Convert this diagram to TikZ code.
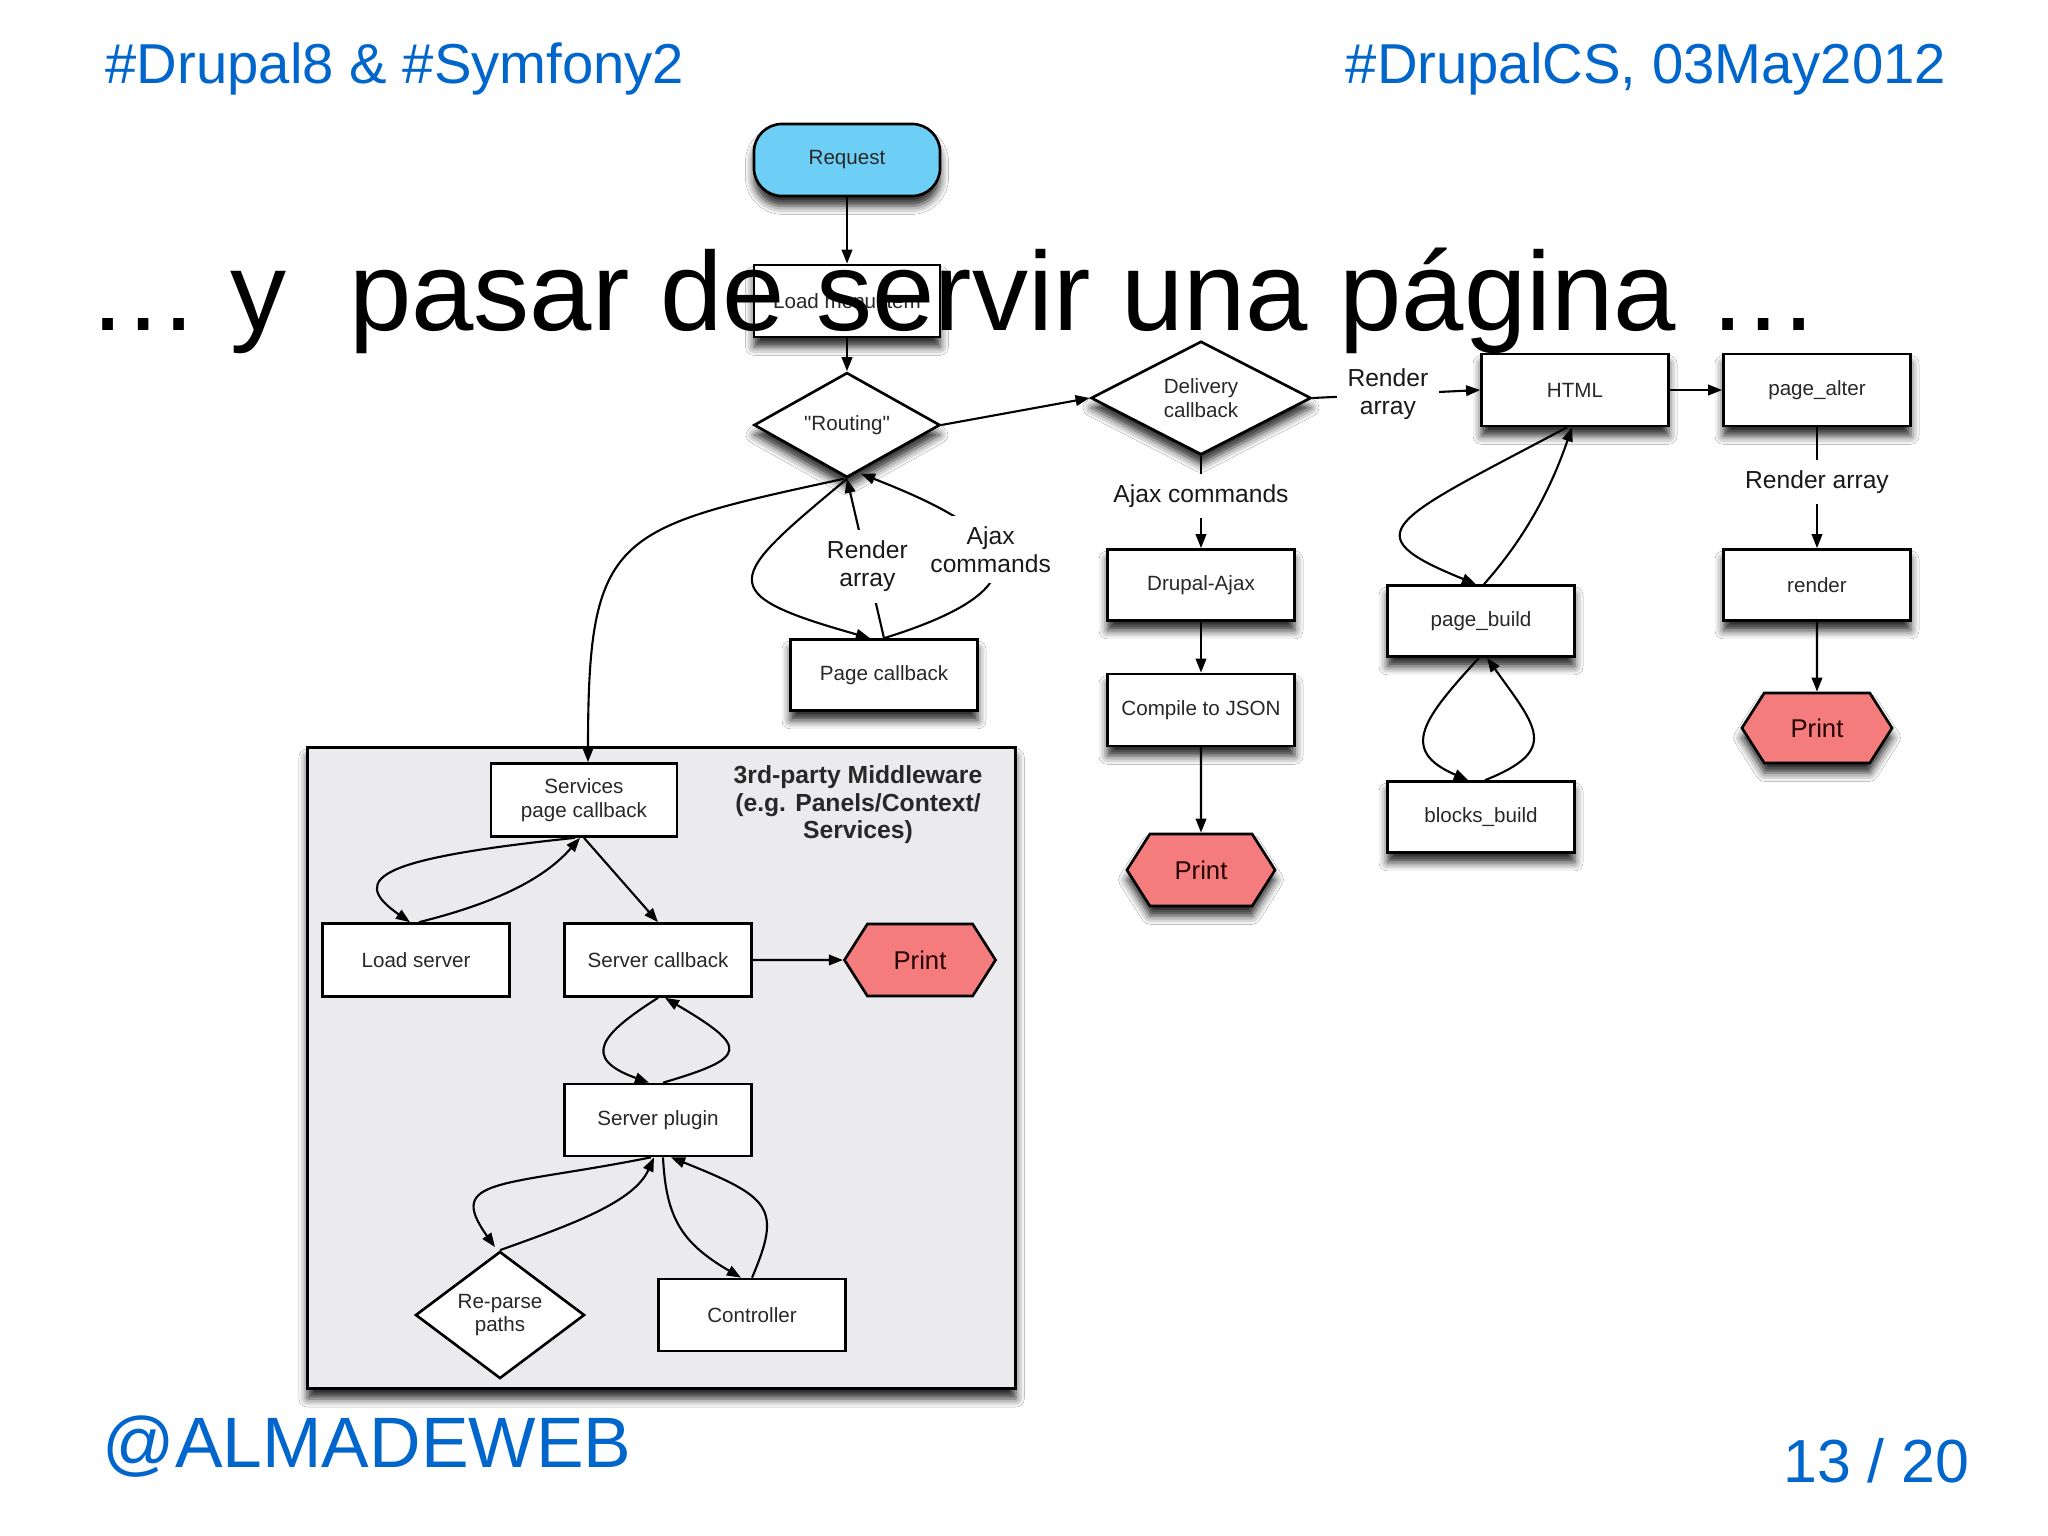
\documentclass[tikz,border=0pt]{standalone}
\usepackage{fontspec}
\setmainfont{Liberation Sans}[Ligatures=TeXOff]
\usetikzlibrary{arrows.meta,shapes.geometric,shapes.symbols,shadows.blur,calc}
\definecolor{hdrblue}{RGB}{0,102,204}
\definecolor{reqblue}{RGB}{110,207,246}
\definecolor{printred}{RGB}{244,124,124}
\definecolor{mwgray}{RGB}{235,234,236}
\definecolor{txtgray}{RGB}{40,40,40}
\begin{document}
\begin{tikzpicture}[x=0.01cm,y=0.01cm,
  shd/.style={blur shadow={shadow xshift=0pt,shadow yshift=-2.8pt,shadow blur radius=2.4pt,shadow opacity=85}},
  nfont/.style={font=\fontsize{5.86}{6.8}\selectfont, text=txtgray},
  box/.style={draw=black,line width=0.75pt,fill=white,rectangle,minimum width=1.87cm,minimum height=0.72cm,inner sep=0pt,nfont,align=center},
  dia/.style={draw=black,line width=0.75pt,fill=white,diamond,inner sep=0pt,nfont,align=center},
  hex/.style={draw=black,line width=0.75pt,fill=printred,shape=signal,signal to=east and west,signal pointer angle=115,minimum width=1.5cm,minimum height=0.71cm,inner sep=0pt,font=\fontsize{7.3}{8}\selectfont,text=black!85!red},
  lbl/.style={font=\fontsize{7}{8}\selectfont,align=center,text=black!90,fill=white,inner sep=3pt},
  arr/.style={line width=0.6pt,-{Triangle[length=4pt,width=3pt]}},
]
\fill[white] (0,0) rectangle (2048,-1536);
\useasboundingbox (0,0) rectangle (2048,-1536);

% headers
\node[anchor=base west,inner sep=0,font=\fontsize{16.0}{19}\selectfont,text=hdrblue] (h1) at (105,-83) {\#Drupal8 \& \#Symfony2};
\node[anchor=base west,inner sep=0,font=\fontsize{16.0}{19}\selectfont,text=hdrblue] (h2) at (1345,-83) {\#DrupalCS, 03May2012};
\node[anchor=base west,inner sep=0,font=\fontsize{20.3}{24}\selectfont,text=hdrblue] (h3) at (102,-1467) {@ALMADEWEB};
\node[anchor=base east,inner sep=0,font=\fontsize{17.3}{20}\selectfont,text=hdrblue] (h4) at (1970,-1482) {13 / 20};

% middleware container
\node[draw=black,line width=0.8pt,fill=mwgray,shd,anchor=north west,minimum width=7.08cm,minimum height=6.41cm,inner sep=0] (mw) at (306,-746) {};
\node[font=\bfseries\fontsize{7.03}{7.8}\selectfont,align=center,text=txtgray] (mwt) at (858,-805) {3rd-party Middleware\\(e.g. Panels/Context/\\Services)};

% main nodes
\node[box,fill=reqblue,rounded corners=0.28cm,minimum width=1.86cm,shd] (req) at (847,-160) {Request};
\node[box,minimum width=1.86cm,shd] (lmi) at (847,-301) {Load menu item};
\node[dia,minimum width=1.86cm,minimum height=0.70cm,shd] (rout) at (847,-425) {"Routing"};
\node[dia,minimum width=2.20cm,minimum height=0.87cm,shd] (deliv) at (1201,-398) {Delivery\\callback};
\node[box,shd] (html) at (1575,-390) {HTML};
\node[box,shd] (palt) at (1817,-390) {page\_alter};
\node[box,minimum height=0.71cm,shd] (render) at (1817,-585) {render};
\node[hex,minimum height=0.70cm,shd] (p3) at (1817,-728) {Print};
\node[box,minimum height=0.71cm,shd] (dajax) at (1201,-585) {Drupal-Ajax};
\node[box,shd] (json) at (1201,-710) {Compile to JSON};
\node[hex,minimum width=1.48cm,minimum height=0.72cm,shd] (p2) at (1201,-870) {Print};
\node[box,minimum height=0.71cm,shd] (pb) at (1481,-621) {page\_build};
\node[box,minimum height=0.71cm,shd] (bb) at (1481,-817) {blocks\_build};
\node[box,minimum height=0.71cm,shd] (pc) at (884,-675) {Page callback};

% inner nodes
\node[box,minimum width=1.86cm,minimum height=0.73cm] (serv) at (584,-800) {Services\\page callback};
\node[box,minimum height=0.73cm] (lserv) at (416,-960) {Load server};
\node[box,minimum height=0.73cm] (scb) at (658,-960) {Server callback};
\node[hex,minimum width=1.51cm,minimum height=0.72cm] (p1) at (920,-960) {Print};
\node[box] (splug) at (658,-1120) {Server plugin};
\node[dia,minimum width=1.69cm,minimum height=1.06cm] (rp) at (500,-1315) {Re-parse\\paths};
\node[box] (ctrl) at (752,-1315) {Controller};

% connectors
\draw[arr] (req) -- (lmi);
\draw[arr] (lmi) -- (rout);
\draw[arr] (rout.east) -- (deliv.west);
\draw[arr] (deliv.east) -- node[lbl,pos=0.45]{Render\\array} (html.west);
\draw[arr] (html) -- (palt);
\draw[arr] (palt) -- node[lbl,pos=0.45]{Render array} (render);
\draw[arr] (render) -- (p3);
\draw[arr] (deliv.south) -- node[lbl,pos=0.43]{Ajax commands} (dajax);
\draw[arr] (dajax) -- (json);
\draw[arr] (json) -- (p2);

\draw[arr] ($(html.south)+(-8,0)$) .. controls +(-177,-94) and +(-126,51) .. ($(pb.north)+(-5,0)$);
\draw[arr] ($(pb.north)+(3,0)$) .. controls +(40,45) and +(-22,-64) .. ($(html.south)+(-3,0)$);
\draw[arr] ($(pb.south)+(-2,0)$) .. controls +(-55,-60) and +(-70,30) .. ($(bb.north)+(-13,0)$);
\draw[arr] ($(bb.north)+(4,0)$) .. controls +(75,30) and +(50,-70) .. ($(pb.south)+(6,0)$);

\draw[arr] (rout.south) .. controls +(-120,-100) and +(-160,45) .. ($(pc.north)+(-14,0)$);
\draw[arr] (pc.north) -- node[lbl,pos=0.45]{Render\\array} (rout.south);
\draw[arr] (pc.north) .. controls +(200,62) and +(115,-45) .. node[lbl,pos=0.5]{Ajax\\commands} ($(rout.south)+(14,5)$);
\draw[arr] ($(rout.south)+(-3,0)$) .. controls +(-230,-50) and +(0,230) .. ($(serv.north)+(4,0)$);

\draw[arr] ($(serv.south)+(-9,0)$) .. controls +(-190,-20) and +(-65,45) .. ($(lserv.north)+(-6,0)$);
\draw[arr] ($(lserv.north)+(3,0)$) .. controls +(80,20) and +(-35,-40) .. ($(serv.south)+(-4,0)$);
\draw[arr] (serv.south) -- (scb.north);
\draw[arr] (scb) -- (p1);
\draw[arr] (scb.south) .. controls +(-55,-35) and +(-70,25) .. ($(splug.north)+(-9,0)$);
\draw[arr] ($(splug.north)+(5,0)$) .. controls +(85,25) and +(85,-50) .. ($(scb.south)+(7,0)$);
\draw[arr] ($(splug.south)+(-7,0)$) .. controls +(-150,-30) and +(-50,70) .. ($(rp.north)+(-5,3)$);
\draw[arr] (rp.north) .. controls +(70,25) and +(-20,-45) .. ($(splug.south)+(-4,0)$);
\draw[arr] ($(splug.south)+(5,0)$) .. controls +(3,-60) and +(-60,35) .. ($(ctrl.north)+(-11,0)$);
\draw[arr] (ctrl.north) .. controls +(30,70) and +(100,-40) .. ($(splug.south)+(13,0)$);

% title on top
\node[anchor=base west,inner sep=0,font=\fontsize{31.87}{36}\selectfont,text=black] (title) at (87,-330) {… y~ pasar de servir una página …};
\end{tikzpicture}
\end{document}
